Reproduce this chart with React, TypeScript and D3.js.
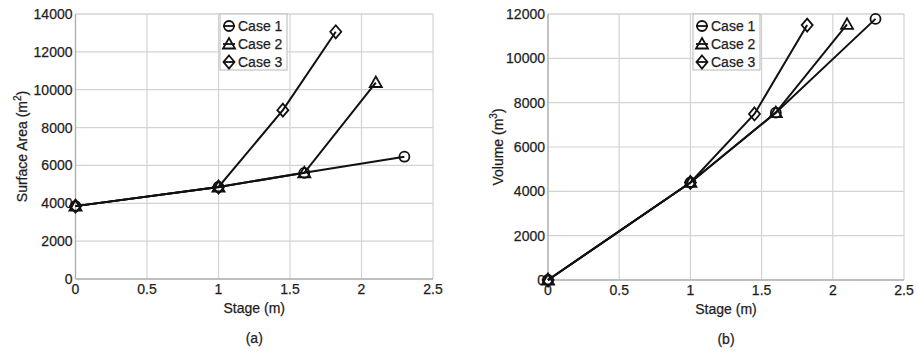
import React from 'react'
import * as d3 from 'd3'

// stage (m) for each case
const case1Stage = [0, 1, 1.6, 2.3]
const case2Stage = [0, 1, 1.6, 2.1]
const case3Stage = [0, 1, 1.45, 1.82]

// (a) surface area, m2
const case1Area = [3850, 4860, 5610, 6460]
const case2Area = [3850, 4860, 5610, 10380]
const case3Area = [3850, 4860, 8920, 13060]

// (b) volume, m3
const case1Volume = [0, 4400, 7550, 11780]
const case2Volume = [0, 4400, 7550, 11530]
const case3Volume = [0, 4400, 7490, 11500]

const caseNames = ['Case 1', 'Case 2', 'Case 3']
const markerTypes = ['circle', 'triangle', 'diamond']
const xTicks = [0, 0.5, 1, 1.5, 2, 2.5]
const areaTicks = [0, 2000, 4000, 6000, 8000, 10000, 12000, 14000]
const volumeTicks = [0, 2000, 4000, 6000, 8000, 10000, 12000]

const FONT = '"Liberation Sans", Arial, sans-serif'
const TXT = '#1e1e1e'

function Marker({ type, x, y }: { type: string; x: number; y: number }) {
	const common = { fill: 'none', stroke: '#111', strokeWidth: 1.8 }
	if (type === 'circle') return <circle cx={x} cy={y} r={5} {...common} />
	if (type === 'triangle')
		return <path d={`M${x},${y - 6}L${x + 6},${y + 4.5}L${x - 6},${y + 4.5}Z`} {...common} />
	return <path d={`M${x},${y - 6.5}L${x + 5.5},${y}L${x},${y + 6.5}L${x - 5.5},${y}Z`} {...common} />
}

function Panel(props: {
	left: number
	right: number
	top: number
	bottom: number
	yMax: number
	yTicks: number[]
	series: number[][]
	yLabel: string
	sup: string
	yLabelX: number
	legendX: number
	caption: string
}) {
	const { left, right, top, bottom, yMax, yTicks, series, yLabel, sup, yLabelX, legendX, caption } = props
	const x = d3.scaleLinear().domain([0, 2.5]).range([left, right])
	const y = d3.scaleLinear().domain([0, yMax]).range([bottom, top])
	const stages = [case1Stage, case2Stage, case3Stage]
	const line = d3
		.line<[number, number]>()
		.x((d) => x(d[0]))
		.y((d) => y(d[1]))
	const midX = (left + right) / 2
	const midY = (top + bottom) / 2
	const txt = { fontSize: 14, fill: TXT, fontFamily: FONT, stroke: TXT, strokeWidth: 0.25 }

	return (
		<g>
			{xTicks.map((t) => (
				<line key={'gx' + t} x1={x(t)} x2={x(t)} y1={top} y2={bottom} stroke="#d3d3d3" strokeWidth={1.2} />
			))}
			{yTicks.concat([yMax]).map((t) => (
				<line key={'gy' + t} x1={left} x2={right} y1={y(t)} y2={y(t)} stroke="#d3d3d3" strokeWidth={1.2} />
			))}
			<line x1={left} x2={left} y1={top} y2={bottom} stroke="#b0b0b0" strokeWidth={1.3} />
			<line x1={left} x2={right} y1={bottom} y2={bottom} stroke="#b0b0b0" strokeWidth={1.3} />

			{xTicks.map((t) => (
				<text key={'tx' + t} x={x(t)} y={bottom + 15} textAnchor="middle" {...txt}>
					{t}
				</text>
			))}
			{yTicks.map((t) => (
				<text key={'ty' + t} x={left - 3} y={y(t) + 5} textAnchor="end" {...txt}>
					{t}
				</text>
			))}

			{series.map((vals, i) => {
				const pts = stages[i].map((s, j) => [s, vals[j]] as [number, number])
				return <path key={'l' + i} d={line(pts) || ''} fill="none" stroke="#111" strokeWidth={2} />
			})}
			{series.map((vals, i) =>
				stages[i].map((s, j) => <Marker key={'m' + i + '-' + j} type={markerTypes[i]} x={x(s)} y={y(vals[j])} />)
			)}

			<rect x={legendX} y={top} width={67} height={56} fill="#fff" stroke="#c4c4c4" strokeWidth={1.2} />
			{caseNames.map((name, i) => {
				const ly = top + 12 + i * 18
				return (
					<g key={'lg' + i}>
						<line x1={legendX + 3} x2={legendX + 15} y1={ly} y2={ly} stroke="#111" strokeWidth={1.8} />
						<Marker type={markerTypes[i]} x={legendX + 9} y={ly} />
						<text x={legendX + 18} y={ly + 5} {...txt}>
							{name}
						</text>
					</g>
				)
			})}

			<text transform={`translate(${yLabelX},${midY}) rotate(-90)`} textAnchor="middle" {...txt}>
				{yLabel + ' (m'}
				<tspan dy={-6} fontSize={10}>
					{sup}
				</tspan>
				<tspan dy={6}>)</tspan>
			</text>
			<text x={midX} y={bottom + 34} textAnchor="middle" {...txt}>
				Stage (m)
			</text>
			<text x={midX} y={bottom + 64} textAnchor="middle" {...txt}>
				{caption}
			</text>
		</g>
	)
}

export default function App() {
	return (
		<div style={{ position: 'fixed', left: 0, top: 0 }}>
			<svg width={917} height={352} style={{ display: 'block', background: '#fff' }}>
				<Panel
					left={75.5}
					right={433}
					top={14}
					bottom={279}
					yMax={14000}
					yTicks={areaTicks}
					series={[case1Area, case2Area, case3Area]}
					yLabel="Surface Area"
					sup="2"
					yLabelX={27}
					legendX={220}
					caption="(a)"
				/>
				<Panel
					left={548}
					right={904}
					top={14}
					bottom={280}
					yMax={12000}
					yTicks={volumeTicks}
					series={[case1Volume, case2Volume, case3Volume]}
					yLabel="Volume"
					sup="3"
					yLabelX={503}
					legendX={693}
					caption="(b)"
				/>
			</svg>
		</div>
	)
}
